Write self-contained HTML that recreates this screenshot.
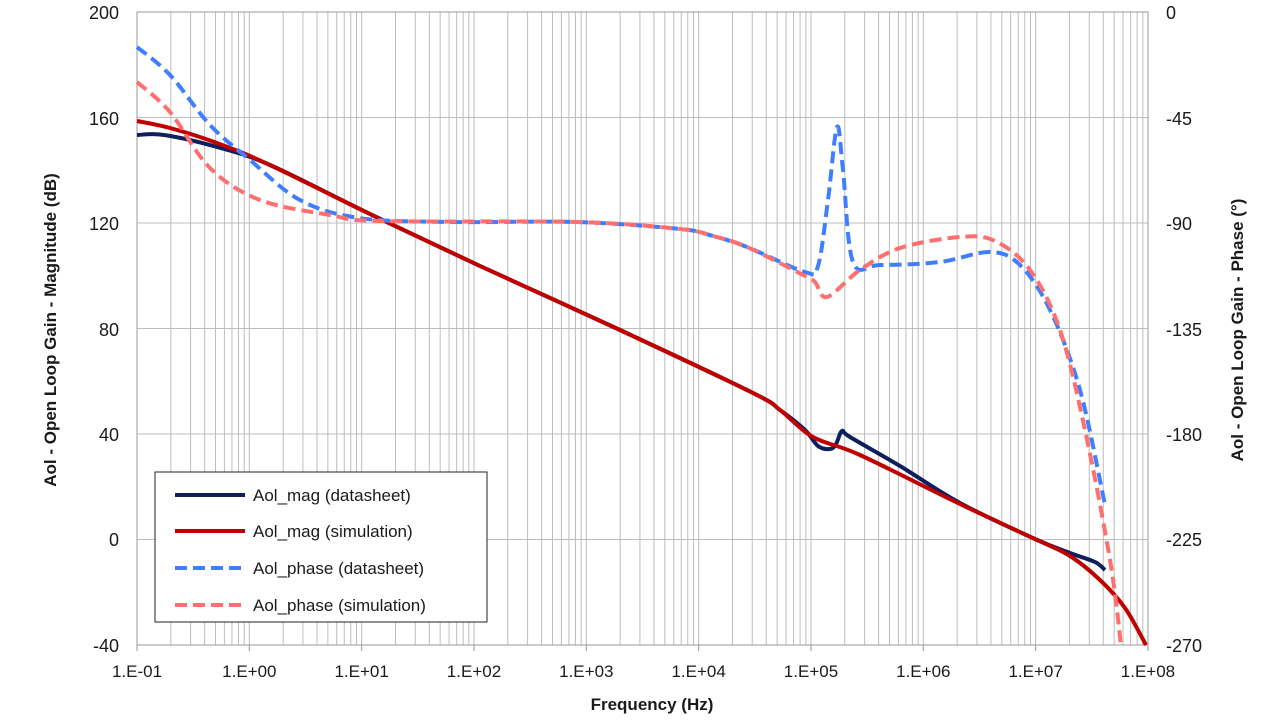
<!DOCTYPE html>
<html><head><meta charset="utf-8"><style>
html,body{margin:0;padding:0;background:#fff;width:1280px;height:720px;overflow:hidden}
svg text{font-family:"Liberation Sans",Arial,sans-serif;fill:#1a1a1a}
</style></head><body>
<svg id="s" width="1280" height="720" xmlns="http://www.w3.org/2000/svg">
<g id="grid"></g>
<rect x="137" y="12" width="1011" height="633" fill="none" stroke="#999" stroke-width="1"/>
<g id="curves" fill="none" stroke-linecap="butt" stroke-linejoin="round"></g>
<g font-size="18">
<text x="119" y="19" text-anchor="end">200</text>
<text x="119" y="125" text-anchor="end">160</text>
<text x="119" y="230" text-anchor="end">120</text>
<text x="119" y="336" text-anchor="end">80</text>
<text x="119" y="441" text-anchor="end">40</text>
<text x="119" y="546" text-anchor="end">0</text>
<text x="119" y="652" text-anchor="end">-40</text>
<text x="1166" y="19">0</text>
<text x="1166" y="125">-45</text>
<text x="1166" y="230">-90</text>
<text x="1166" y="336">-135</text>
<text x="1166" y="441">-180</text>
<text x="1166" y="546">-225</text>
<text x="1166" y="652">-270</text>
</g>
<g font-size="17" text-anchor="middle" id="xl"></g>
<text x="652" y="710" font-size="17" font-weight="bold" text-anchor="middle">Frequency (Hz)</text>
<text transform="translate(56,330) rotate(-90)" font-size="17" font-weight="bold" text-anchor="middle">Aol - Open Loop Gain - Magnitude (dB)</text>
<text transform="translate(1243,330) rotate(-90)" font-size="17" font-weight="bold" text-anchor="middle">Aol - Open Loop Gain - Phase (°)</text>
<rect x="155" y="472" width="332" height="150" fill="#fff" stroke="#222" stroke-width="1"/>
<g stroke-width="4">
<line x1="175" y1="495" x2="245" y2="495" stroke="#0d1f5c"/>
<line x1="175" y1="531" x2="245" y2="531" stroke="#c00000"/>
<line x1="175" y1="568" x2="245" y2="568" stroke="#3f7fff" stroke-dasharray="12,6"/>
<line x1="175" y1="605" x2="245" y2="605" stroke="#ff6f6f" stroke-dasharray="12,6"/>
</g>
<g font-size="17">
<text x="253" y="501">Aol_mag (datasheet)</text>
<text x="253" y="537">Aol_mag (simulation)</text>
<text x="253" y="574">Aol_phase (datasheet)</text>
<text x="253" y="611">Aol_phase (simulation)</text>
</g>
</svg>
<script>
var NS="http://www.w3.org/2000/svg",g=document.getElementById('grid'),xl=document.getElementById('xl');
function el(p,t,a){var e=document.createElementNS(NS,t);for(var k in a)e.setAttribute(k,a[k]);p.appendChild(e);return e;}
var x0=137,dx=112.33;
for(var d=0;d<9;d++){for(var k=1;k<10;k++){var x=x0+(d+Math.log10(k))*dx;if(k>1||d>0)el(g,'line',{x1:x,y1:12,x2:x,y2:645,stroke:'#bdbdbd','stroke-width':1});}}
for(var i=1;i<6;i++){var y=12+i*105.5;el(g,'line',{x1:137,y1:y,x2:1148,y2:y,stroke:'#bdbdbd','stroke-width':1});}
var labs=['1.E-01','1.E+00','1.E+01','1.E+02','1.E+03','1.E+04','1.E+05','1.E+06','1.E+07','1.E+08'];
for(var i=0;i<10;i++){var t=el(xl,'text',{x:x0+i*dx,y:677});t.textContent=labs[i];el(g,'line',{x1:x0+i*dx,y1:645,x2:x0+i*dx,y2:651,stroke:'#999'});}
function path(pts){var d='M'+pts[0][0]+','+pts[0][1];for(var i=0;i<pts.length-1;i++){var p0=pts[i-1]||pts[i],p1=pts[i],p2=pts[i+1],p3=pts[i+2]||p2;
d+=' C'+(p1[0]+(p2[0]-p0[0])/6)+','+(p1[1]+(p2[1]-p0[1])/6)+' '+(p2[0]-(p3[0]-p1[0])/6)+','+(p2[1]-(p3[1]-p1[1])/6)+' '+p2[0]+','+p2[1];}return d;}
var c=document.getElementById('curves');
var ph_sim=[[137,82],[170,112],[210,168],[260,200],[330,215],[380,221],[577,222],[680,229],[713,236],[747,247],[803,275],[815,282],[827,297],[860,270],[900,248],[960,237],[995,241],[1030,270],[1060,330],[1085,430],[1110,560],[1121,645]];
var ph_ds=[[137,47],[170,75],[210,125],[250,160],[300,200],[359,218],[450,222],[577,222],[680,229],[713,236],[747,247],[805,272],[818,266],[828,200],[837,127],[843,170],[853,262],[880,265],[940,262],[990,252],[1020,265],[1050,310],[1080,390],[1105,505]];
var mag_ds=[[137,135],[164,135],[217,147],[270,165],[370,214],[480,266],[620,330],[753,393],[780,410],[805,430],[818,446],[830,449],[836,444],[842,431],[850,437],[900,466],[960,503],[1035,539],[1070,553],[1095,562],[1105,570]];
var mag_sim=[[137,121],[170,128],[217,143],[270,165],[370,214],[480,266],[620,330],[753,393],[780,410],[813,437],[860,455],[960,504],[1035,539],[1070,556],[1100,580],[1125,608],[1146,645]];
el(c,'path',{d:path(mag_ds),stroke:'#0d1f5c','stroke-width':4});
el(c,'path',{d:path(mag_sim),stroke:'#c00000','stroke-width':4});
el(c,'path',{d:path(ph_ds),stroke:'#3f7fff','stroke-width':4,'stroke-dasharray':'12,6'});
el(c,'path',{d:path(ph_sim),stroke:'#ff6f6f','stroke-width':4,'stroke-dasharray':'12,6'});
</script>
</body></html>
